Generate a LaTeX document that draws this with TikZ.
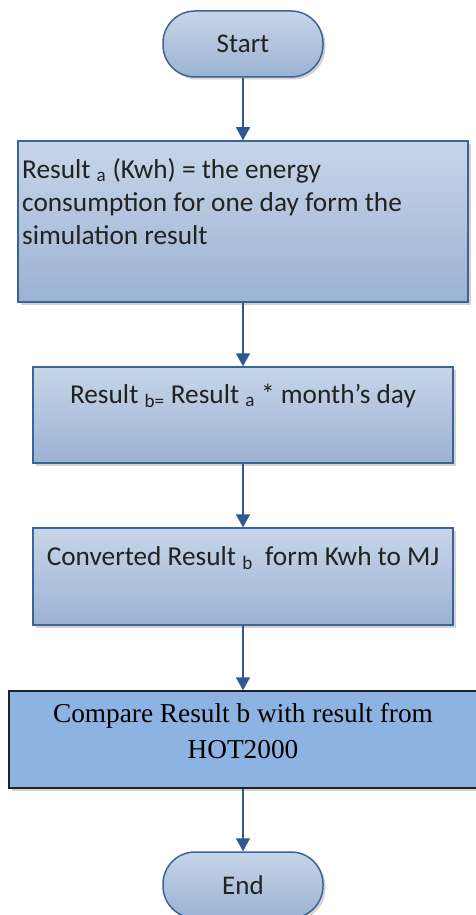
\documentclass[tikz,border=0pt]{standalone}
\usepackage{fontspec}
\setmainfont{Carlito}
\newfontfamily\timesfont{Liberation Serif}
\usetikzlibrary{
	arrows.meta,
	shadows,
	positioning,
	calc
}

\definecolor{boxtop}{HTML}{C7D5E8}
\definecolor{boxbot}{HTML}{9CB2D3}
\definecolor{boxline}{HTML}{3D6498}
\definecolor{flowline}{HTML}{2E5894}
\definecolor{hotfill}{HTML}{8DB3E2}
\definecolor{inkcol}{HTML}{222222}

\tikzset{
	shadebox/.style={draw=boxline, line width=1.5pt, top color=boxtop, bottom color=boxbot,
		drop shadow={shadow xshift=2.5pt, shadow yshift=-2.5pt, opacity=0.35}},
	terminal/.style={shadebox, rounded corners=32pt, minimum width=160pt, minimum height=66pt,
		text=inkcol, font=\fontsize{27}{33}\selectfont},
	procbox/.style={shadebox, minimum width=420pt, minimum height=96pt},
	hotbox/.style={draw=inkcol, line width=1.5pt, fill=hotfill, minimum width=468pt, minimum height=97pt,
		drop shadow={shadow xshift=2.5pt, shadow yshift=-2.5pt, opacity=0.35}},
	calibri/.style={inner sep=0pt, text=inkcol, font=\fontsize{27.3}{33}\selectfont},
	timestext/.style={inner sep=0pt, text=black, font=\timesfont\fontsize{27.3}{36}\selectfont},
	flow/.style={draw=flowline, line width=1.5pt, -{Triangle[length=13pt, width=14pt]}}
}

\begin{document}
\begin{tikzpicture}[x=1pt, y=-1pt]
		\useasboundingbox (0,0) rectangle (475,915);
		% terminals and boxes
		\node[terminal] (start) at (243,44) {Start};
		\node[procbox, minimum width=450pt, minimum height=161pt] (resA) at (243,221.5) {};
		\node[procbox] (resB) at (243,415) {};
		\node[procbox, minimum height=97pt] (conv) at (243,576.5) {};
		\node[hotbox] (comp) at (243,739.5) {};
		\node[terminal] (end) at (243,885) {End};
		% texts in the boxes (base = last line)
		\node[calibri, anchor=base west, align=left] (resAtext) at (22,244)
			{Result \textsubscript{a} (Kwh) = the energy\\consumption for one day form the\\simulation result};
		\node[calibri, anchor=base] (resBtext) at (243,403)
			{Result \textsubscript{b=} Result \textsubscript{a} * month’s day};
		\node[calibri, anchor=base] (convtext) at (243,565)
			{Converted Result \textsubscript{b}\ \ form Kwh to MJ};
		\node[timestext, anchor=base, align=center] (comptext) at (243,758)
			{Compare Result b with result from\\HOT2000};
		% connectors
		\draw[flow] (start) -- (resA);
		\draw[flow] (resA) -- (resB);
		\draw[flow] (resB) -- (conv);
		\draw[flow] (conv) -- (comp);
		\draw[flow] (comp) -- (end);
	\end{tikzpicture}
\end{document}
